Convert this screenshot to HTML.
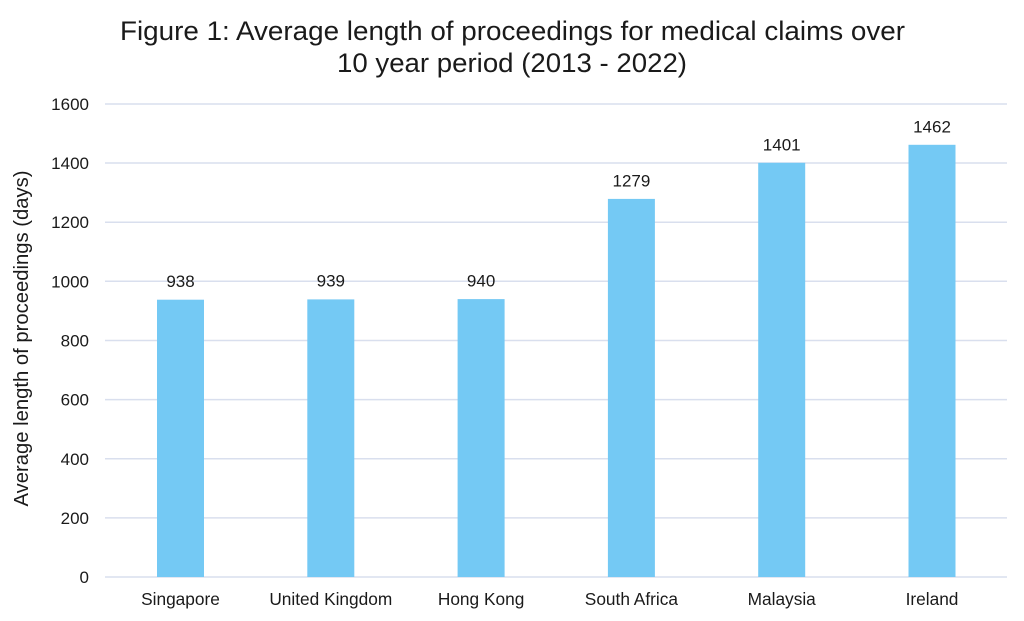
<!DOCTYPE html>
<html>
<head>
<meta charset="utf-8">
<style>
html,body{margin:0;padding:0;background:#fff;}
svg{display:block;}
text{font-family:"Liberation Sans",Arial,sans-serif;fill:#1a1a1a;}
</style>
</head>
<body>
<svg width="1024" height="621" viewBox="0 0 1024 621" xmlns="http://www.w3.org/2000/svg">
<rect width="1024" height="621" fill="#fff"/>
<!-- title -->
<text x="512.5" y="40" font-size="26.5" text-anchor="middle" textLength="785" lengthAdjust="spacingAndGlyphs">Figure 1: Average length of proceedings for medical claims over</text>
<text x="512" y="72" font-size="26.5" text-anchor="middle" textLength="350" lengthAdjust="spacingAndGlyphs">10 year period (2013 - 2022)</text>
<!-- gridlines -->
<g stroke="#d9dfee" stroke-width="1.5">
<line x1="105" x2="1007" y1="104" y2="104"/>
<line x1="105" x2="1007" y1="163" y2="163"/>
<line x1="105" x2="1007" y1="222.2" y2="222.2"/>
<line x1="105" x2="1007" y1="281.3" y2="281.3"/>
<line x1="105" x2="1007" y1="340.5" y2="340.5"/>
<line x1="105" x2="1007" y1="399.6" y2="399.6"/>
<line x1="105" x2="1007" y1="458.8" y2="458.8"/>
<line x1="105" x2="1007" y1="517.9" y2="517.9"/>
<line x1="105" x2="1007" y1="577" y2="577"/>
</g>
<!-- tick labels -->
<g font-size="17" text-anchor="end">
<text x="89" y="110">1600</text>
<text x="89" y="169">1400</text>
<text x="89" y="228.2">1200</text>
<text x="89" y="287.3">1000</text>
<text x="89" y="346.5">800</text>
<text x="89" y="405.6">600</text>
<text x="89" y="464.8">400</text>
<text x="89" y="523.9">200</text>
<text x="89" y="583">0</text>
</g>
<!-- y axis label -->
<text transform="translate(28,338.5) rotate(-90)" font-size="20" text-anchor="middle" textLength="336" lengthAdjust="spacingAndGlyphs">Average length of proceedings (days)</text>
<!-- bars -->
<g fill="#74c9f4">
<rect x="157" y="299.7" width="47" height="277.3"/>
<rect x="307.3" y="299.4" width="47" height="277.6"/>
<rect x="457.6" y="299.1" width="47" height="277.9"/>
<rect x="607.9" y="198.9" width="47" height="378.1"/>
<rect x="758.2" y="162.8" width="47" height="414.2"/>
<rect x="908.5" y="144.8" width="47" height="432.2"/>
</g>
<!-- data labels -->
<g font-size="17" text-anchor="middle">
<text x="180.5" y="287">938</text>
<text x="330.8" y="286.7">939</text>
<text x="481.1" y="286.4">940</text>
<text x="631.4" y="186.6">1279</text>
<text x="781.7" y="150.4">1401</text>
<text x="932" y="132.4">1462</text>
</g>
<!-- category labels -->
<g font-size="17.3" text-anchor="middle">
<text x="180.5" y="605">Singapore</text>
<text x="330.8" y="605">United Kingdom</text>
<text x="481.1" y="605">Hong Kong</text>
<text x="631.4" y="605">South Africa</text>
<text x="781.7" y="605">Malaysia</text>
<text x="932" y="605">Ireland</text>
</g>
</svg>
</body>
</html>
